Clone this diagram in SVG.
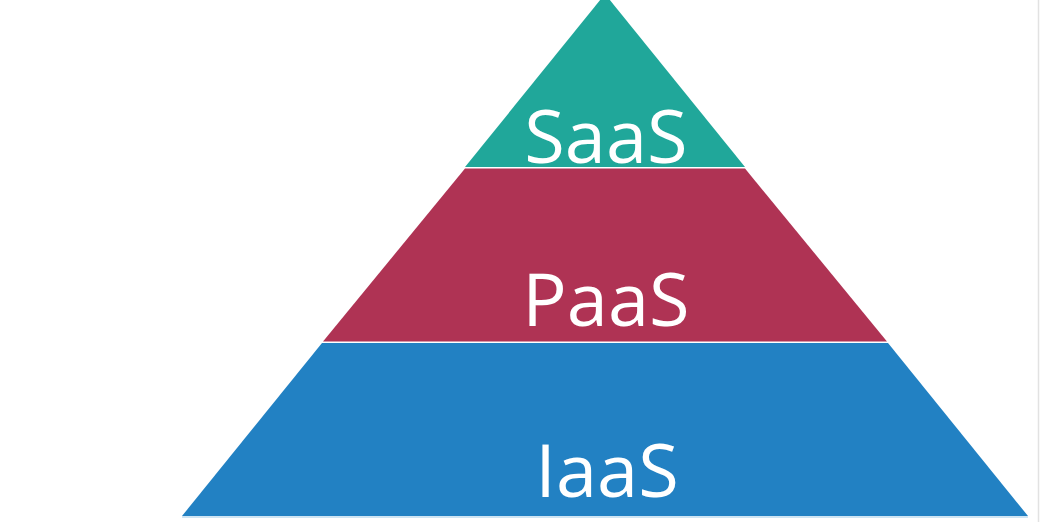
<svg xmlns="http://www.w3.org/2000/svg" width="1042" height="522" viewBox="0 0 1042 522">
<style>
.lbl{font-family:"Open Sans","Noto Sans",sans-serif;font-size:74px;fill:#ffffff;text-anchor:middle}
</style>
<rect width="1042" height="522" fill="#ffffff"/>
<line x1="1038.5" y1="0" x2="1038.5" y2="522" stroke="#e2e2e2" stroke-width="1.5"/>
<g id="iaas">
<polygon points="322,343 888,343 1028,516 182,516" fill="#2281c3"/>
<line x1="182" y1="517" x2="1028" y2="517" stroke="#9fcbe8" stroke-width="1"/>
<text class="lbl" x="607" y="497">IaaS</text>
</g>
<g id="paas">
<polygon points="465,168.5 745,168.5 887,341.5 323,341.5" fill="#af3354"/>
<text class="lbl" x="606" y="326">PaaS</text>
</g>
<g id="saas">
<polygon points="605,-6 745,167 465,167" fill="#20a79a"/>
<text class="lbl" x="606" y="163">SaaS</text>
</g>
</svg>
